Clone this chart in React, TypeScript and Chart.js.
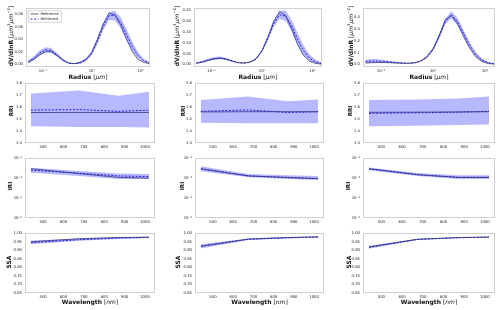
import React, { useEffect, useRef } from 'react';
import { Chart, registerables } from 'chart.js';
Chart.register(...registerables);

// ---------- data ----------
const radius = [0.05, 0.066, 0.086, 0.113, 0.148, 0.194, 0.255, 0.335, 0.439, 0.576, 0.756, 0.992, 1.302, 1.708, 2.241, 2.94, 3.857, 5.061, 6.641, 8.713, 11.432, 15.0];
const wavelengths = [440, 675, 870, 1020];

const psd1Ref = [0.003, 0.008, 0.015, 0.020, 0.020, 0.014, 0.007, 0.002, 0.001, 0.003, 0.008, 0.019, 0.040, 0.064, 0.081, 0.079, 0.063, 0.041, 0.021, 0.008, 0.003, 0.001];
const psd1Ret = [0.004, 0.010, 0.018, 0.023, 0.022, 0.015, 0.007, 0.002, 0.001, 0.002, 0.007, 0.017, 0.037, 0.060, 0.077, 0.078, 0.067, 0.048, 0.029, 0.014, 0.006, 0.002];
const psd1Up = [0.006, 0.013, 0.022, 0.027, 0.026, 0.018, 0.009, 0.003, 0.0015, 0.004, 0.009, 0.020, 0.041, 0.065, 0.083, 0.085, 0.075, 0.057, 0.037, 0.020, 0.009, 0.004];
const psd1Lo = [0.002, 0.007, 0.014, 0.019, 0.018, 0.012, 0.005, 0.001, 0.0005, 0.001, 0.005, 0.014, 0.032, 0.054, 0.070, 0.070, 0.058, 0.039, 0.022, 0.010, 0.004, 0.001];

const psd2Ref = [0.005, 0.010, 0.018, 0.025, 0.028, 0.024, 0.015, 0.008, 0.006, 0.010, 0.025, 0.062, 0.125, 0.198, 0.242, 0.226, 0.165, 0.093, 0.042, 0.015, 0.005, 0.001];
const psd2Ret = [0.006, 0.012, 0.020, 0.027, 0.030, 0.025, 0.016, 0.008, 0.006, 0.010, 0.024, 0.059, 0.118, 0.187, 0.228, 0.222, 0.178, 0.116, 0.063, 0.029, 0.012, 0.004];
const psd2Up = [0.010, 0.017, 0.026, 0.034, 0.036, 0.030, 0.020, 0.010, 0.007, 0.012, 0.028, 0.065, 0.128, 0.202, 0.247, 0.248, 0.205, 0.146, 0.088, 0.047, 0.022, 0.010];
const psd2Lo = [0.003, 0.007, 0.014, 0.021, 0.024, 0.020, 0.012, 0.006, 0.005, 0.008, 0.020, 0.053, 0.108, 0.172, 0.210, 0.200, 0.153, 0.091, 0.042, 0.016, 0.005, 0.001];

const psd3Ref = [0.012, 0.015, 0.016, 0.016, 0.015, 0.012, 0.010, 0.010, 0.014, 0.030, 0.065, 0.130, 0.240, 0.370, 0.410, 0.340, 0.235, 0.135, 0.063, 0.024, 0.008, 0.003];
const psd3Ret = [0.025, 0.028, 0.028, 0.026, 0.022, 0.017, 0.012, 0.010, 0.013, 0.027, 0.060, 0.122, 0.230, 0.360, 0.415, 0.360, 0.260, 0.160, 0.083, 0.037, 0.015, 0.006];
const psd3Up = [0.042, 0.045, 0.043, 0.038, 0.031, 0.023, 0.016, 0.013, 0.016, 0.032, 0.068, 0.135, 0.250, 0.385, 0.445, 0.390, 0.290, 0.185, 0.100, 0.050, 0.022, 0.010];
const psd3Lo = [0.010, 0.013, 0.014, 0.014, 0.013, 0.011, 0.009, 0.008, 0.010, 0.022, 0.052, 0.110, 0.210, 0.335, 0.385, 0.330, 0.230, 0.135, 0.065, 0.025, 0.009, 0.003];

const rri1Ref = [1.555, 1.556, 1.556, 1.556];
const rri1Ret = [1.575, 1.580, 1.565, 1.575];
const rri1Up = [1.715, 1.740, 1.695, 1.730];
const rri1Lo = [1.440, 1.435, 1.435, 1.430];

const rri2Ref = [1.560, 1.562, 1.562, 1.562];
const rri2Ret = [1.565, 1.577, 1.555, 1.562];
const rri2Up = [1.660, 1.690, 1.650, 1.665];
const rri2Lo = [1.470, 1.465, 1.465, 1.465];

const rri3Ref = [1.557, 1.558, 1.560, 1.562];
const rri3Ret = [1.548, 1.553, 1.558, 1.565];
const rri3Up = [1.660, 1.665, 1.672, 1.690];
const rri3Lo = [1.440, 1.445, 1.450, 1.455];

const iri1Ref = [0.0030, 0.0017, 0.0011, 0.0010];
const iri1Ret = [0.0025, 0.0018, 0.0013, 0.0012];
const iri1Up = [0.0033, 0.0023, 0.0017, 0.0016];
const iri1Lo = [0.0019, 0.0013, 0.0009, 0.0009];

const iri2Ref = [0.0030, 0.0013, 0.0011, 0.00095];
const iri2Ret = [0.0029, 0.0013, 0.00105, 0.00095];
const iri2Up = [0.0040, 0.0016, 0.0014, 0.0013];
const iri2Lo = [0.0022, 0.0011, 0.0009, 0.0008];

const iri3Ref = [0.0030, 0.0015, 0.0011, 0.0011];
const iri3Ret = [0.0029, 0.0015, 0.0011, 0.0011];
const iri3Up = [0.0034, 0.0018, 0.0014, 0.0014];
const iri3Lo = [0.0025, 0.0013, 0.0009, 0.0009];

const ssa1Ref = [0.950, 0.968, 0.975, 0.977];
const ssa1Ret = [0.945, 0.962, 0.972, 0.976];
const ssa1Up = [0.958, 0.970, 0.978, 0.980];
const ssa1Lo = [0.935, 0.956, 0.967, 0.972];

const ssa2Ref = [0.925, 0.966, 0.975, 0.979];
const ssa2Ret = [0.923, 0.965, 0.974, 0.978];
const ssa2Up = [0.935, 0.970, 0.978, 0.981];
const ssa2Lo = [0.911, 0.960, 0.970, 0.975];

const ssa3Ref = [0.920, 0.965, 0.975, 0.978];
const ssa3Ret = [0.918, 0.964, 0.974, 0.977];
const ssa3Up = [0.927, 0.968, 0.977, 0.980];
const ssa3Lo = [0.910, 0.960, 0.971, 0.974];

// ---------- ticks ----------
const radiusTicks = [0.1, 1, 10];
const radiusTickLabels = ['10\u207B\u00B9', '10\u2070', '10\u00B9'];
const wavelengthTicks = [500, 600, 700, 800, 900, 1000];
const wavelengthTickLabels = ['500', '600', '700', '800', '900', '1000'];
const psd1Ticks = [0, 0.02, 0.04, 0.06, 0.08];
const psd1TickLabels = ['0.00', '0.02', '0.04', '0.06', '0.08'];
const psd2Ticks = [0, 0.05, 0.1, 0.15, 0.2, 0.25];
const psd2TickLabels = ['0.00', '0.05', '0.10', '0.15', '0.20', '0.25'];
const psd3Ticks = [0, 0.1, 0.2, 0.3, 0.4];
const psd3TickLabels = ['0.0', '0.1', '0.2', '0.3', '0.4'];
const rriTicks = [1.3, 1.4, 1.5, 1.6, 1.7, 1.8];
const rriTickLabels = ['1.3', '1.4', '1.5', '1.6', '1.7', '1.8'];
const iriTicks = [1e-5, 1e-4, 1e-3, 1e-2];
const iriTickLabels = ['10\u207B\u2075', '10\u207B\u2074', '10\u207B\u00B3', '10\u207B\u00B2'];
const ssaTicks = [0.65, 0.7, 0.75, 0.8, 0.85, 0.9, 0.95, 1.0];
const ssaTickLabels = ['0.65', '0.70', '0.75', '0.80', '0.85', '0.90', '0.95', '1.00'];

const legendLabels = ['Reference', 'Retrieved'];

// ---------- styles ----------
const FONT = 'DejaVu Sans';
const BAND = 'rgba(0,0,255,0.28)';
const REF = 'rgba(70,70,70,0.8)';
const RET = 'rgba(20,20,225,0.9)';
const FRAME = '#d0d0d0';
const TICKC = '#222';
const TICK_SIZE = 3.8;

type Spec = {
  left: number; top: number; right: number; bottom: number;
  xType: 'logarithmic' | 'linear'; xMin: number; xMax: number; xTicks: number[]; xLabels: string[];
  yType: 'logarithmic' | 'linear'; yMin: number; yMax: number; yTicks: number[]; yLabels: string[];
  x: number[]; ref: number[]; ret: number[]; up: number[]; lo: number[];
  legend?: boolean;
};

const colX = [[26, 150], [194, 322], [363, 495]];
const colX2 = [[25, 155], [195, 324], [363, 495]];
const rowY = [[5, 67], [80, 143], [155, 218], [230, 293]];

const psdY = [
  { min: -0.0043, max: 0.089, ticks: psd1Ticks, labels: psd1TickLabels, ref: psd1Ref, ret: psd1Ret, up: psd1Up, lo: psd1Lo },
  { min: -0.012, max: 0.258, ticks: psd2Ticks, labels: psd2TickLabels, ref: psd2Ref, ret: psd2Ret, up: psd2Up, lo: psd2Lo },
  { min: -0.021, max: 0.47, ticks: psd3Ticks, labels: psd3TickLabels, ref: psd3Ref, ret: psd3Ret, up: psd3Up, lo: psd3Lo },
];
const rriSets = [
  { ref: rri1Ref, ret: rri1Ret, up: rri1Up, lo: rri1Lo },
  { ref: rri2Ref, ret: rri2Ret, up: rri2Up, lo: rri2Lo },
  { ref: rri3Ref, ret: rri3Ret, up: rri3Up, lo: rri3Lo },
];
const iriSets = [
  { ref: iri1Ref, ret: iri1Ret, up: iri1Up, lo: iri1Lo },
  { ref: iri2Ref, ret: iri2Ret, up: iri2Up, lo: iri2Lo },
  { ref: iri3Ref, ret: iri3Ret, up: iri3Up, lo: iri3Lo },
];
const ssaSets = [
  { ref: ssa1Ref, ret: ssa1Ret, up: ssa1Up, lo: ssa1Lo },
  { ref: ssa2Ref, ret: ssa2Ret, up: ssa2Up, lo: ssa2Lo },
  { ref: ssa3Ref, ret: ssa3Ret, up: ssa3Up, lo: ssa3Lo },
];

const specs: Spec[] = [];
for (let c = 0; c < 3; c++) {
  const p = psdY[c];
  specs.push({
    left: colX[c][0], right: colX[c][1], top: rowY[0][0], bottom: rowY[0][1],
    xType: 'logarithmic', xMin: 0.045, xMax: 15.5, xTicks: radiusTicks, xLabels: radiusTickLabels,
    yType: 'linear', yMin: p.min, yMax: p.max, yTicks: p.ticks, yLabels: p.labels,
    x: radius, ref: p.ref, ret: p.ret, up: p.up, lo: p.lo, legend: c === 0,
  });
}
const wlRows = [
  { row: 1, sets: rriSets, type: 'linear' as const, min: 1.3, max: 1.8, ticks: rriTicks, labels: rriTickLabels },
  { row: 2, sets: iriSets, type: 'logarithmic' as const, min: 1e-5, max: 1e-2, ticks: iriTicks, labels: iriTickLabels },
  { row: 3, sets: ssaSets, type: 'linear' as const, min: 0.65, max: 1.0, ticks: ssaTicks, labels: ssaTickLabels },
];
for (const r of wlRows) {
  for (let c = 0; c < 3; c++) {
    const s = r.sets[c];
    specs.push({
      left: colX2[c][0], right: colX2[c][1], top: rowY[r.row][0], bottom: rowY[r.row][1],
      xType: 'linear', xMin: 411, xMax: 1049, xTicks: wavelengthTicks, xLabels: wavelengthTickLabels,
      yType: r.type, yMin: r.min, yMax: r.max, yTicks: r.ticks, yLabels: r.labels,
      x: wavelengths, ref: s.ref, ret: s.ret, up: s.up, lo: s.lo,
    });
  }
}

const framePlugin = {
  id: 'frame',
  afterDraw(chart: any) {
    const { ctx, chartArea: a } = chart;
    ctx.save();
    ctx.strokeStyle = FRAME;
    ctx.lineWidth = 1;
    ctx.strokeRect(Math.round(a.left) + 0.5, Math.round(a.top) + 0.5, Math.round(a.right - a.left) - 1, Math.round(a.bottom - a.top) - 1);
    ctx.restore();
  },
};

const legendPlugin = {
  id: 'boxLegend',
  afterDraw(chart: any) {
    const { ctx, chartArea: a } = chart;
    const x = a.left + 2.5, y = a.top + 2.5, w = 33, h = 11.5;
    ctx.save();
    ctx.fillStyle = 'rgba(255,255,255,0.85)';
    ctx.strokeStyle = '#cccccc';
    ctx.lineWidth = 0.8;
    ctx.fillRect(x, y, w, h);
    ctx.strokeRect(x, y, w, h);
    ctx.lineWidth = 1;
    ctx.strokeStyle = REF;
    ctx.beginPath(); ctx.moveTo(x + 2, y + 3.2); ctx.lineTo(x + 10, y + 3.2); ctx.stroke();
    ctx.strokeStyle = RET;
    ctx.setLineDash([2, 1.5]);
    ctx.beginPath(); ctx.moveTo(x + 2, y + 8.3); ctx.lineTo(x + 10, y + 8.3); ctx.stroke();
    ctx.setLineDash([]);
    ctx.fillStyle = '#222';
    ctx.font = `3.6px ${FONT}`;
    ctx.textBaseline = 'middle';
    ctx.fillText(legendLabels[0], x + 12, y + 3.2);
    ctx.fillText(legendLabels[1], x + 12, y + 8.3);
    ctx.restore();
  },
};

const YW = 26, XH = 10, PT = 2, PR = 3;

function Panel({ spec }: { spec: Spec }) {
  const cref = useRef<HTMLCanvasElement>(null);
  const w = spec.right - spec.left + YW + PR;
  const h = spec.bottom - spec.top + XH + PT;
  useEffect(() => {
    const pts = (ys: number[]) => spec.x.map((x, i) => ({ x, y: ys[i] }));
    const chart = new Chart(cref.current as HTMLCanvasElement, {
      type: 'line',
      data: {
        datasets: [
          { data: pts(spec.up), borderWidth: 0, borderColor: 'transparent', pointRadius: 0, fill: '+1', backgroundColor: BAND, tension: 0 },
          { data: pts(spec.lo), borderWidth: 0, borderColor: 'transparent', pointRadius: 0, fill: false, tension: 0 },
          { data: pts(spec.ref), borderColor: REF, borderWidth: 1, pointRadius: 0, fill: false, tension: 0 },
          { data: pts(spec.ret), borderColor: RET, borderWidth: 1, borderDash: [2, 1.5], pointRadius: 0, fill: false, tension: 0 },
        ],
      } as any,
      options: {
        animation: false,
        responsive: false,
        devicePixelRatio: 1,
        layout: { padding: { top: PT, right: PR, left: 0, bottom: 0 } },
        plugins: { legend: { display: false }, tooltip: { enabled: false } },
        scales: {
          x: {
            type: spec.xType, min: spec.xMin, max: spec.xMax,
            grid: { display: false, drawTicks: false },
            border: { display: false },
            ticks: {
              autoSkip: false, maxRotation: 0, minRotation: 0, padding: 1.5,
              color: TICKC, font: { size: TICK_SIZE, family: FONT },
              callback: (_v: any, i: number) => spec.xLabels[i],
            },
            afterBuildTicks: (s: any) => { s.ticks = spec.xTicks.map((v) => ({ value: v })); },
            afterFit: (s: any) => { s.height = XH; },
          },
          y: {
            type: spec.yType, min: spec.yMin, max: spec.yMax,
            grid: { display: false, drawTicks: false },
            border: { display: false },
            ticks: {
              autoSkip: false, padding: 3,
              color: TICKC, font: { size: TICK_SIZE, family: FONT },
              callback: (_v: any, i: number) => spec.yLabels[i],
            },
            afterBuildTicks: (s: any) => { s.ticks = spec.yTicks.map((v) => ({ value: v })); },
            afterFit: (s: any) => { s.width = YW; },
          },
        },
      } as any,
      plugins: spec.legend ? [framePlugin, legendPlugin] : [framePlugin],
    });
    return () => chart.destroy();
  }, []);
  return (
    <canvas
      ref={cref}
      width={w}
      height={h}
      style={{ position: 'absolute', left: spec.left - YW, top: spec.top - PT, width: w, height: h }}
    />
  );
}

function YTitle({ x, y, bold, rest, size }: { x: number; y: number; bold: string; rest?: React.ReactNode; size: number }) {
  return (
    <div
      style={{
        position: 'absolute', left: x, top: y, transform: 'translate(-50%, -50%) rotate(-90deg)',
        whiteSpace: 'nowrap', fontFamily: FONT, fontSize: size, color: '#111', lineHeight: 1,
      }}
    >
      <b>{bold}</b>{rest}
    </div>
  );
}

function XTitle({ x, y, bold, rest, size }: { x: number; y: number; bold: string; rest: React.ReactNode; size: number }) {
  return (
    <div
      style={{
        position: 'absolute', left: x, top: y, transform: 'translate(-50%, -50%)',
        whiteSpace: 'nowrap', fontFamily: FONT, fontSize: size, color: '#111', lineHeight: 1,
      }}
    >
      <b>{bold}</b>{rest}
    </div>
  );
}

export default function App() {
  const psdTitleX = [10, 176, 350];
  const rriTitleX = [12, 184, 351];
  const iriTitleX = [11, 183, 349];
  const ssaTitleX = [9, 178, 349];
  const unitPsd = <span style={{ fontWeight: 'normal' }}> [<i>μm</i><sup style={{ fontSize: '0.65em' }}>3</sup><i>μm</i><sup style={{ fontSize: '0.65em' }}>−2</sup>]</span>;
  return (
    <div style={{ position: 'fixed', left: 0, top: 0, width: 500, height: 310, background: '#fff', overflow: 'hidden' }}>
      {specs.map((s, i) => <Panel key={i} spec={s} />)}
      {[0, 1, 2].map((c) => (
        <React.Fragment key={c}>
          <YTitle x={psdTitleX[c]} y={36} bold="dV/dlnR" rest={unitPsd} size={6} />
          <XTitle x={(colX[c][0] + colX[c][1]) / 2} y={76.5} bold="Radius" rest={<span> [<i>μm</i>]</span>} size={6} />
          <YTitle x={rriTitleX[c]} y={111} bold="RRI" size={5.6} />
          <YTitle x={iriTitleX[c]} y={186} bold="IRI" size={5.6} />
          <YTitle x={ssaTitleX[c]} y={262} bold="SSA" size={6} />
          <XTitle x={(colX2[c][0] + colX2[c][1]) / 2} y={301.5} bold="Wavelength" rest={<span> [<i>nm</i>]</span>} size={6} />
        </React.Fragment>
      ))}
    </div>
  );
}
